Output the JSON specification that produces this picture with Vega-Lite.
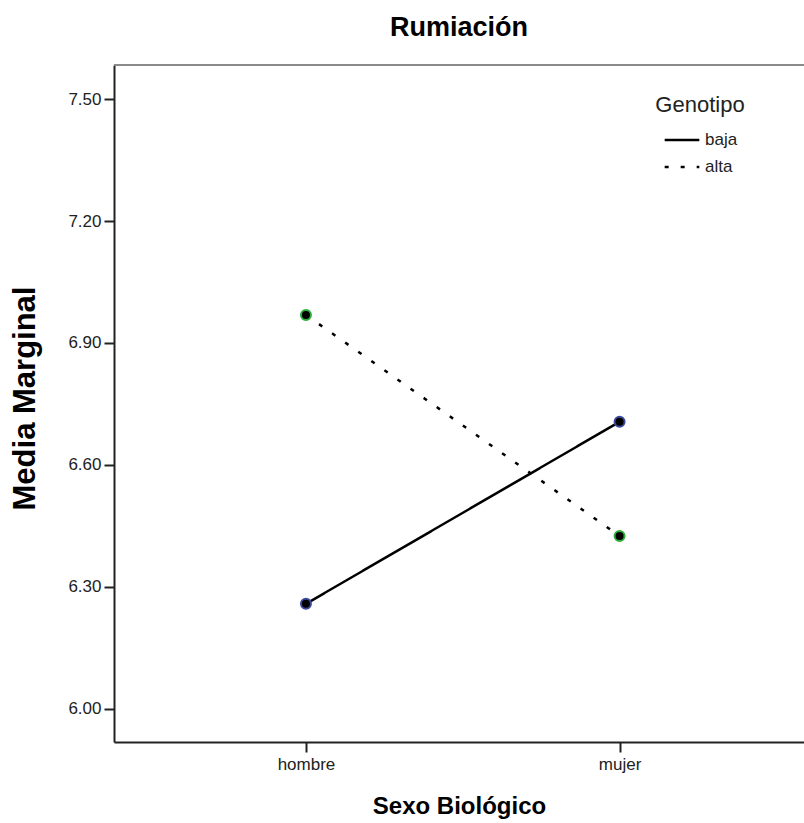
{
  "$schema": "https://vega.github.io/schema/vega-lite/v6.json",
  "autosize": {"type": "none"},
  "width": 690,
  "height": 677,
  "padding": {"left": 114, "top": 65, "right": 0, "bottom": 81},
  "background": "white",
  "config": {
    "font": "Liberation Sans",
    "view": {"stroke": "transparent", "strokeWidth": 0},
    "axis": {"grid": false, "labelFont": "Liberation Sans", "titleFont": "Liberation Sans"},
    "legend": {"labelFont": "Liberation Sans", "titleFont": "Liberation Sans"}
  },
  "title": {
    "text": "Rumiación",
    "fontSize": 27,
    "fontWeight": "bold",
    "font": "Liberation Sans",
    "color": "#000",
    "anchor": "middle",
    "offset": 22
  },
  "data": {
    "values": [
      {"sexo": "hombre", "genotipo": "baja", "media": 6.258},
      {"sexo": "mujer", "genotipo": "baja", "media": 6.706},
      {"sexo": "hombre", "genotipo": "alta", "media": 6.969},
      {"sexo": "mujer", "genotipo": "alta", "media": 6.425}
    ]
  },
  "encoding": {
    "y": {
      "field": "media",
      "type": "quantitative",
      "scale": {"domain": [5.918, 7.584], "nice": false, "zero": false},
      "axis": {
        "title": "Media Marginal",
        "titleFontSize": 31,
        "titleFontWeight": "bold",
        "titleColor": "#000",
        "titlePadding": 26,
        "titleY": 333,
        "values": [6.0, 6.3, 6.6, 6.9, 7.2, 7.5],
        "format": ".2f",
        "labelFontSize": 17,
        "labelColor": "#222",
        "labelPadding": 3,
        "tickSize": 10,
        "tickColor": "#222",
        "tickWidth": 2,
        "domainColor": "#222",
        "domainWidth": 2
      }
    }
  },
  "layer": [
    {
      "data": {"values": [{"borde": 7.584}]},
      "mark": {"type": "rule", "color": "#8a8a8a", "strokeWidth": 2},
      "encoding": {"y": {"field": "borde", "type": "quantitative"}}
    },
    {
      "mark": {"type": "line", "color": "#000", "strokeWidth": 2.5},
      "encoding": {
        "x": {
          "field": "sexo",
          "type": "nominal",
          "sort": ["hombre", "mujer"],
          "scale": {"type": "point", "padding": 0.6, "align": 0.51},
          "axis": {
            "title": "Sexo Biológico",
            "titleFontSize": 24,
            "titleFontWeight": "bold",
            "titleColor": "#000",
            "titlePadding": 22,
            "labelAngle": 0,
            "labelFontSize": 17,
            "labelColor": "#222",
            "labelPadding": 4,
            "tickSize": 10,
            "tickColor": "#222",
            "tickWidth": 2,
            "domainColor": "#222",
            "domainWidth": 2
          }
        },
        "strokeDash": {
          "field": "genotipo",
          "type": "nominal",
          "scale": {"domain": ["baja", "alta"], "range": [[1, 0], [4, 12]]},
          "legend": {
            "title": "Genotipo",
            "orient": "none",
            "legendX": 541,
            "legendY": 30,
            "titleFontSize": 22,
            "titleFontWeight": "normal",
            "titleColor": "#222",
            "titleAnchor": "middle",
            "titlePadding": 4,
            "labelFontSize": 17,
            "labelColor": "#222",
            "labelOffset": 4,
            "rowPadding": -2,
            "symbolType": "stroke",
            "symbolSize": 1200,
            "symbolStrokeWidth": 2.5,
            "symbolStrokeColor": "#000",
            "padding": 0
          }
        }
      }
    },
    {
      "mark": {"type": "point", "filled": false, "fill": "#000", "fillOpacity": 1, "size": 100, "strokeWidth": 2, "opacity": 1},
      "encoding": {
        "x": {
          "field": "sexo",
          "type": "nominal",
          "sort": ["hombre", "mujer"]
        },
        "stroke": {
          "condition": {"test": "datum.genotipo === 'alta'", "value": "#2fae3a"},
          "value": "#3a4a9a"
        }
      }
    }
  ]
}
